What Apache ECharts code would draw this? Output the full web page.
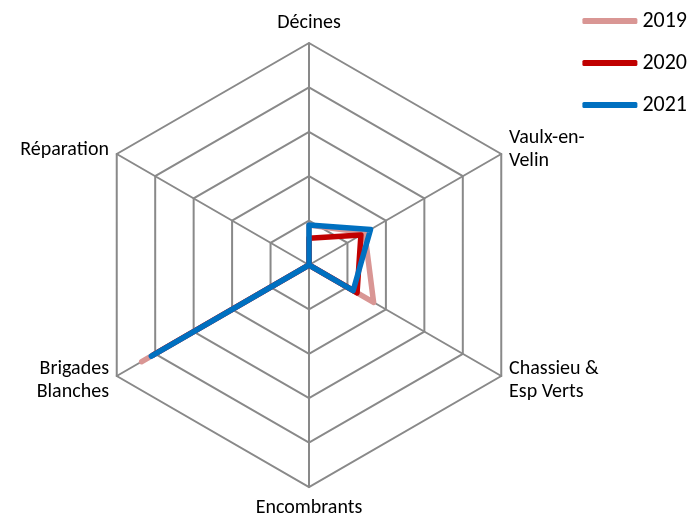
<!DOCTYPE html>
<html>
<head>
<meta charset="utf-8">
<script src="https://cdn.jsdelivr.net/npm/echarts@6/dist/echarts.min.js"></script>
<style>
  html, body { margin: 0; padding: 0; background: #fff; }
  #chart { width: 699px; height: 520px; }
</style>
</head>
<body>
<div id="chart"></div>
<script>
  // indicators in ECharts order (counter-clockwise from the top)
  const categories = ['Décines', 'Réparation', 'Brigades\nBlanches', 'Encombrants', 'Chassieu &\nEsp Verts', 'Vaulx-en-\nVelin']
  const years = ['2019', '2020', '2021']
  const values2019 = [9, 0, 43.5, 0, 16.8, 14.5]
  const values2020 = [6, 0, 40.5, 0, 12.5, 13.5]
  const values2021 = [9, 0, 41, 0, 11.5, 16]
  const axisMax = 50

  const colors = ['#D99694', '#C00000', '#0070C0']
  const fontFamily = 'Calibri, "Noto Sans", sans-serif'

  const chart = echarts.init(document.getElementById('chart'))

  const series = [values2019, values2020, values2021].map((vals, i) => ({
    name: years[i],
    type: 'radar',
    symbol: 'none',
    lineStyle: { color: colors[i], width: 5.5, cap: 'round', join: 'round' },
    itemStyle: { color: colors[i] },
    data: [{ value: vals, name: years[i] }],
    z: 2 + i,
  }))

  chart.setOption({
    animation: false,
    color: colors,
    legend: {
      orient: 'vertical',
      right: 7,
      top: 5,
      itemWidth: 55,
      itemHeight: 6,
      itemGap: 20,
      icon: 'roundRect',
      textStyle: { fontFamily, fontSize: 22, color: '#000' },
      data: years,
    },
    radar: {
      center: [309, 265],
      radius: 222,
      startAngle: 90,
      splitNumber: 5,
      shape: 'polygon',
      indicator: categories.map(name => ({ name, min: 0, max: axisMax })),
      axisName: { color: '#000', fontFamily, fontSize: 20, lineHeight: 23 },
      nameGap: 9,
      axisLine: { lineStyle: { color: '#898989', width: 2 } },
      splitLine: { lineStyle: { color: '#898989', width: 2 } },
      splitArea: { show: false },
      axisTick: { show: false },
      axisLabel: { show: false },
    },
    series,
  })
</script>
</body>
</html>
